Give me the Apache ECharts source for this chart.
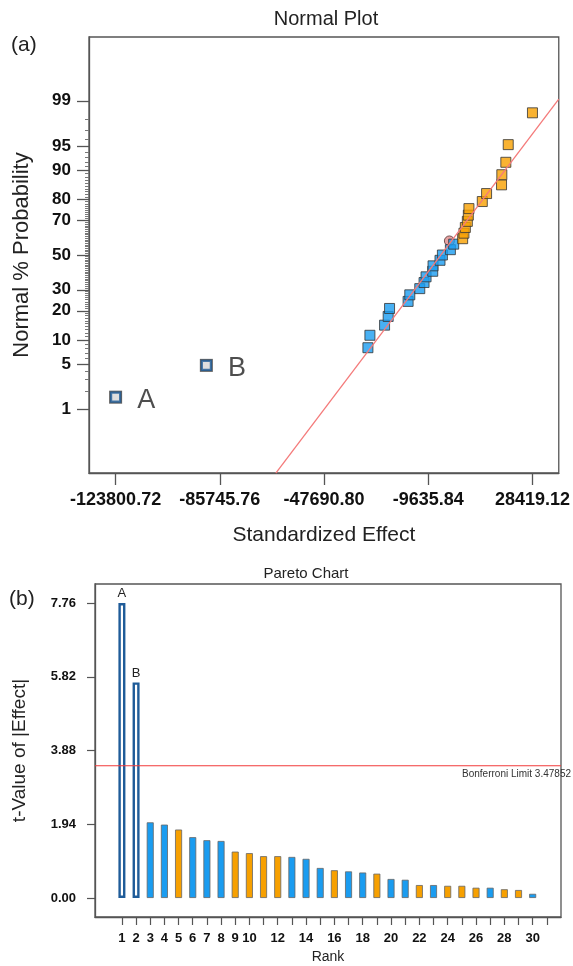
<!DOCTYPE html>
<html>
<head>
<meta charset="utf-8">
<script src="https://cdn.jsdelivr.net/npm/echarts@6/dist/echarts.min.js"></script>
<style>
  html, body { margin: 0; padding: 0; background: #fff; }
  #chart { width: 573px; height: 966px; }
</style>
</head>
<body>
<div id="chart"></div>
<script>
// ---- (a) normal plot: standardized effect vs normal % probability ----
let namedEffect = [-123800.72, -90662];
let namedPct = [1.6, 4.8];
let namedLabels = ['A', 'B'];
let blueEffect = [-31669, -30940, -25587, -24276, -23766, -16993, -16374, -12732,
                  -11166, -10438, -7998, -7889, -5340, -4466, -1553, -351];
let bluePct = [8.1, 11.3, 14.5, 17.7, 21.0, 24.2, 27.4, 30.6,
               33.9, 37.1, 40.3, 43.5, 46.8, 50.0, 53.2, 56.5];
let orangeEffect = [2927, 3400, 3910, 4638, 5002, 5221, 10100, 11667,
                    17129, 17238, 18695, 19569, 28419.12];
let orangePct = [59.7, 62.9, 66.1, 69.4, 72.6, 75.8, 79.0, 82.3,
                 85.5, 88.7, 91.9, 95.2, 98.4];
let centerEffect = [-1917];
let centerPct = [58.4];
let fitEffect = [-65290, 38026];
let fitPct = [0.05, 99.06];
let effectTicks = [-123800.72, -85745.76, -47690.80, -9635.84, 28419.12];
let probTicks = [1, 5, 10, 20, 30, 50, 70, 80, 90, 95, 99];

// ---- (b) pareto chart ----
let ranks = [1, 2, 3, 4, 5, 6, 7, 8, 9, 10, 11, 12, 13, 14, 15,
             16, 17, 18, 19, 20, 21, 22, 23, 24, 25, 26, 27, 28, 29, 30];
let tValues = [7.76, 5.67, 1.99, 1.93, 1.80, 1.60, 1.52, 1.50, 1.22, 1.18, 1.10, 1.10, 1.08, 1.03, 0.79,
               0.73, 0.70, 0.67, 0.64, 0.50, 0.48, 0.34, 0.34, 0.32, 0.32, 0.27, 0.27, 0.23, 0.21, 0.11];
let effectSign = ['n', 'n', 'b', 'b', 'o', 'b', 'b', 'b', 'o', 'o', 'o', 'o', 'b', 'b', 'b',
                  'o', 'b', 'b', 'o', 'b', 'b', 'o', 'b', 'o', 'o', 'o', 'b', 'o', 'o', 'b'];
let barNames = ['A', 'B'];
let tTicks = [0, 1.94, 3.88, 5.82, 7.76];
let rankLabels = [1, 2, 3, 4, 5, 6, 7, 8, 9, 10, 12, 14, 16, 18, 20, 22, 24, 26, 28, 30];
let rankTicks = [1, 2, 3, 4, 5, 6, 7, 8, 9, 10, 11, 12, 13, 14, 15, 16,
                 17, 18, 19, 20, 21, 22, 23, 24, 25, 26, 27, 28, 29, 30, 31];
let rankRange = [-0.9, 32];
let bonferroni = 3.47852;

const FONT = 'Liberation Sans, Arial, sans-serif';
const BLUE = '#1a9cf0';
const ORANGE = '#f7a000';
const FRAME = '#555';
const LIMIT_RED = '#f23a3a';

// inverse normal cdf (Acklam), percent -> z
function probit(pct) {
    let p = pct / 100;
    let a = [-3.969683028665376e+01, 2.209460984245205e+02, -2.759285104469687e+02,
             1.383577518672690e+02, -3.066479806614716e+01, 2.506628277459239e+00];
    let b = [-5.447609879822406e+01, 1.615858368580409e+02, -1.556989798598866e+02,
             6.680131188771972e+01, -1.328068155288572e+01];
    let c = [-7.784894002430293e-03, -3.223964580411365e-01, -2.400758277161838e+00,
             -2.549732539343734e+00, 4.374664141464968e+00, 2.938163982698783e+00];
    let d = [7.784695709041462e-03, 3.224671290700398e-01, 2.445134137142996e+00,
             3.754408661907416e+00];
    let pl = 0.02425, q, r;
    if (p < pl) {
        q = Math.sqrt(-2 * Math.log(p));
        return (((((c[0] * q + c[1]) * q + c[2]) * q + c[3]) * q + c[4]) * q + c[5]) /
               ((((d[0] * q + d[1]) * q + d[2]) * q + d[3]) * q + 1);
    }
    if (p > 1 - pl) {
        q = Math.sqrt(-2 * Math.log(1 - p));
        return -(((((c[0] * q + c[1]) * q + c[2]) * q + c[3]) * q + c[4]) * q + c[5]) /
                ((((d[0] * q + d[1]) * q + d[2]) * q + d[3]) * q + 1);
    }
    q = p - 0.5;
    r = q * q;
    return (((((a[0] * r + a[1]) * r + a[2]) * r + a[3]) * r + a[4]) * r + a[5]) * q /
           (((((b[0] * r + b[1]) * r + b[2]) * r + b[3]) * r + b[4]) * r + 1);
}

function pairs(xs, pcts) {
    return xs.map((x, i) => [x, probit(pcts[i])]);
}

// minor ticks on the probability axis, every whole percent
let minorPct = [];
for (let p = 2; p < 99; p++) {
    if (probTicks.indexOf(p) < 0) minorPct.push(p);
}

let chart = echarts.init(document.getElementById('chart'), null, { renderer: 'canvas' });

let option = {
    animation: false,
    backgroundColor: '#fff',
    textStyle: { fontFamily: FONT },
    graphic: [
        { type: 'text', x: 326, y: 9, style: { text: 'Normal Plot', font: '20px ' + FONT, fill: '#222', align: 'center' } },
        { type: 'text', x: 11, y: 35, style: { text: '(a)', font: '21px ' + FONT, fill: '#222' } },
        { type: 'text', x: 306, y: 566, style: { text: 'Pareto Chart', font: '15px ' + FONT, fill: '#222', align: 'center' } },
        { type: 'text', x: 9, y: 589, style: { text: '(b)', font: '21px ' + FONT, fill: '#222' } }
    ],
    grid: [
        { left: 89, top: 37, right: 12, bottom: 493, show: true, borderColor: FRAME, borderWidth: 1.3 },
        { left: 95, top: 584, right: 12, bottom: 49, show: true, borderColor: FRAME, borderWidth: 1.3 }
    ],
    xAxis: [
        {
            gridIndex: 0, type: 'value', min: -133517, max: 38026,
            name: 'Standardized Effect', nameLocation: 'middle', nameGap: 52,
            nameTextStyle: { fontSize: 21, color: '#222', fontFamily: FONT },
            axisLine: { show: true, onZero: false, lineStyle: { color: FRAME, width: 1.3 } },
            axisTick: { show: true, inside: false, length: 12, customValues: effectTicks, lineStyle: { color: FRAME, width: 1.3 } },
            axisLabel: {
                customValues: effectTicks, margin: 18, fontSize: 18, fontWeight: 'bold', color: '#111',
                formatter: v => v.toFixed(2)
            },
            splitLine: { show: false }
        },
        {
            gridIndex: 1, type: 'value', min: rankRange[0], max: rankRange[1],
            name: 'Rank', nameLocation: 'middle', nameGap: 33,
            nameTextStyle: { fontSize: 14, color: '#222', fontFamily: FONT },
            axisLine: { show: true, onZero: false, lineStyle: { color: FRAME, width: 1.3 } },
            axisTick: { show: true, length: 8, customValues: rankTicks, lineStyle: { color: FRAME, width: 1.2 } },
            axisLabel: { customValues: rankLabels, margin: 15, fontSize: 13, fontWeight: 'bold', color: '#111' },
            splitLine: { show: false }
        }
    ],
    yAxis: [
        {
            gridIndex: 0, type: 'value', min: -3.288, max: 3.288,
            name: 'Normal % Probability', nameLocation: 'middle', nameGap: 56,
            nameTextStyle: { fontSize: 22, color: '#222', fontFamily: FONT },
            axisLine: { show: true, onZero: false, lineStyle: { color: FRAME, width: 1.3 } },
            axisTick: { show: true, length: 12, customValues: probTicks.map(probit), lineStyle: { color: FRAME, width: 1.3 } },
            axisLabel: {
                customValues: probTicks.map(probit), margin: 18, fontSize: 17, fontWeight: 'bold', color: '#111',
                formatter: function (v) {
                    let best = probTicks[0];
                    probTicks.forEach(p => { if (Math.abs(probit(p) - v) < Math.abs(probit(best) - v)) best = p; });
                    return String(best);
                }
            },
            splitLine: { show: false }
        },
        {
            gridIndex: 0, type: 'value', min: -3.288, max: 3.288, position: 'left',
            axisLine: { show: false, onZero: false },
            axisTick: { show: true, length: 4, customValues: minorPct.map(probit), lineStyle: { color: '#777', width: 1 } },
            axisLabel: { show: false },
            splitLine: { show: false }
        },
        {
            gridIndex: 1, type: 'value', min: -0.5, max: 8.26,
            name: 't-Value of |Effect|', nameLocation: 'middle', nameGap: 66,
            nameTextStyle: { fontSize: 19, color: '#222', fontFamily: FONT },
            axisLine: { show: true, onZero: false, lineStyle: { color: FRAME, width: 1.3 } },
            axisTick: { show: true, length: 8, customValues: tTicks, lineStyle: { color: FRAME, width: 1.2 } },
            axisLabel: {
                customValues: tTicks, margin: 19, fontSize: 13, fontWeight: 'bold', color: '#111',
                formatter: v => v.toFixed(2)
            },
            splitLine: { show: false }
        }
    ],
    series: [
        {
            type: 'line', xAxisIndex: 0, yAxisIndex: 0, data: pairs(fitEffect, fitPct),
            symbol: 'none', lineStyle: { color: '#f47a7a', width: 1.3 }, silent: true
        },
        {
            type: 'scatter', xAxisIndex: 0, yAxisIndex: 0, data: pairs(centerEffect, centerPct),
            symbol: 'circle', symbolSize: 10,
            itemStyle: { color: '#e08a8a', borderColor: '#553333', borderWidth: 1 }
        },
        {
            type: 'scatter', xAxisIndex: 0, yAxisIndex: 0, data: pairs(blueEffect, bluePct),
            symbol: 'rect', symbolSize: 10,
            itemStyle: { color: BLUE, borderColor: '#333', borderWidth: 1 }
        },
        {
            type: 'scatter', xAxisIndex: 0, yAxisIndex: 0, data: pairs(orangeEffect, orangePct),
            symbol: 'rect', symbolSize: 10,
            itemStyle: { color: ORANGE, borderColor: '#333', borderWidth: 1 }
        },
        {
            type: 'scatter', xAxisIndex: 0, yAxisIndex: 0, data: pairs(namedEffect, namedPct),
            symbol: 'rect', symbolSize: 13,
            itemStyle: { color: '#3a3a3a' }
        },
        {
            type: 'scatter', xAxisIndex: 0, yAxisIndex: 0, data: pairs(namedEffect, namedPct),
            symbol: 'rect', symbolSize: 9,
            itemStyle: { color: '#fff', borderColor: '#1f5c99', borderWidth: 2.2 },
            label: {
                show: true, position: 'right', distance: 16, offset: [0, 3],
                fontSize: 27, color: '#222', fontFamily: FONT,
                formatter: p => namedLabels[p.dataIndex]
            }
        },
        {
            // Bonferroni limit line across the pareto plot
            type: 'line', xAxisIndex: 1, yAxisIndex: 2,
            data: rankRange.map(r => [r, bonferroni]),
            symbol: 'none', silent: true, z: 3,
            lineStyle: { color: LIMIT_RED, width: 1.2 },
            endLabel: {
                show: true, formatter: 'Bonferroni Limit ' + bonferroni,
                align: 'right', verticalAlign: 'top', distance: 0, offset: [10, 3],
                fontSize: 10, color: '#333', fontFamily: FONT
            }
        },
        {
            type: 'bar', xAxisIndex: 1, yAxisIndex: 2, barWidth: 7,
            data: ranks.map((r, i) => {
                let sign = effectSign[i];
                let item = {
                    value: [r, tValues[i]],
                    itemStyle: sign === 'n'
                        ? { color: '#fff', borderColor: '#1f5c99', borderWidth: 2.4 }
                        : { color: sign === 'b' ? BLUE : ORANGE, borderColor: '#666', borderWidth: 0.8 }
                };
                if (sign === 'n') {
                    item.label = {
                        show: true, position: 'top', distance: 3, fontSize: 13, color: '#222',
                        formatter: barNames[i]
                    };
                }
                return item;
            })
        }
    ]
};

chart.setOption(option);
window.addEventListener('resize', function () {
    chart.resize();
});
</script>
</body>
</html>
